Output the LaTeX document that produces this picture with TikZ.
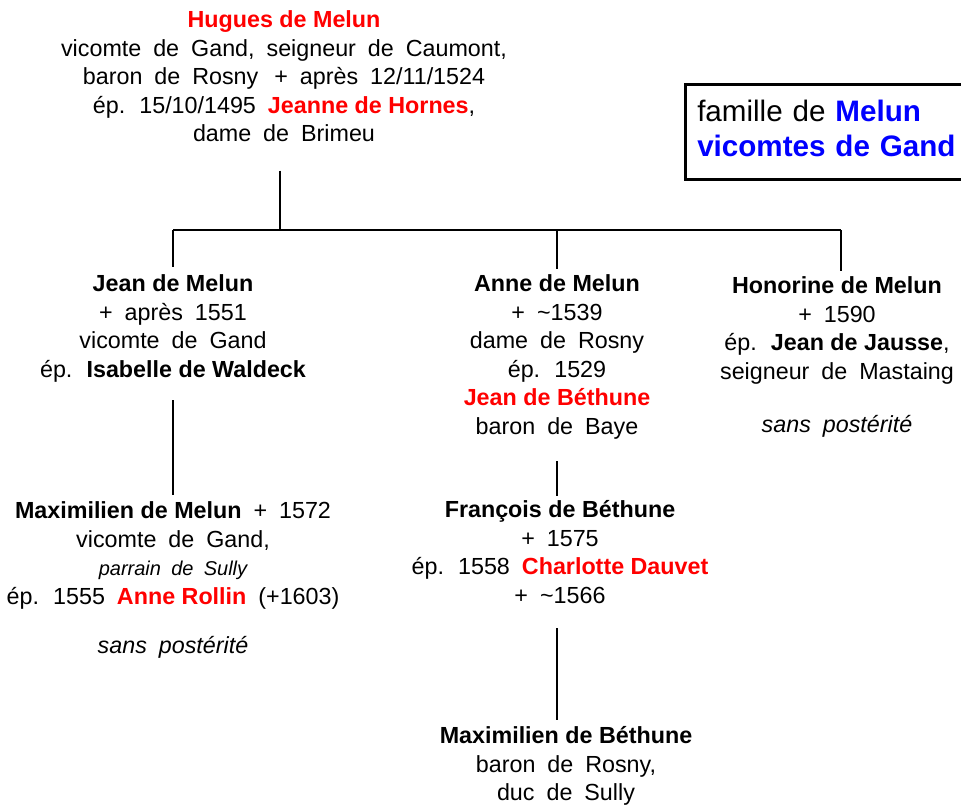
\documentclass[tikz,border=0pt]{standalone}
\usepackage{fontspec}
\setmainfont{Liberation Sans}[WordSpace=1.85, BoldFeatures={WordSpace=1}]
\usetikzlibrary{positioning}
\usepackage{xcolor}
\definecolor{famred}{RGB}{255,0,0}
\definecolor{famblue}{RGB}{0,0,255}
\newcommand{\pers}[1]{\textbf{#1}}
\newcommand{\alliee}[1]{\textcolor{famred}{\textbf{#1}}}

\begin{document}
\begin{tikzpicture}[
        x=1pt, y=-1pt,
        person/.style={align=center, inner sep=0pt, anchor=north,
          font=\fontsize{23.3}{28.5}\selectfont},
        remark/.style={inner sep=0pt,
          font=\fontsize{23.3}{28.5}\selectfont\itshape},
        legend/.style={draw, line width=2.5pt, anchor=north west,
          text width=275pt, minimum height=95pt, align=left,
          inner xsep=12pt, text depth=41pt,
          font=\fontsize{29.6}{35}\selectfont},
        tree/.style={line width=2pt},
      ]
      \useasboundingbox (0,0) rectangle (961,804);

      % Generation 0
      \node[person] (hugues) at (284,10.5) {\textcolor{famred}{\textbf{Hugues de Melun}}\\
        vicomte de Gand, seigneur de Caumont,\\
        baron de Rosny\hspace{4pt} + après 12/11/1524\\
        ép. 15/10/1495 \alliee{Jeanne de Hornes},\\
        dame de Brimeu};

      % Legend
      \node[legend] (legend) at (684,83) {famille de \textcolor{famblue}{\textbf{Melun}}\\
        \textcolor{famblue}{\textbf{vicomtes de Gand}}};

      % Generation 1
      \node[person] (jean) at (173,274.5) {\pers{Jean de Melun}\\
        + après 1551\\
        vicomte de Gand\\
        ép. \pers{Isabelle de Waldeck}};
      \node[person] (anne) at (557,274.5) {\pers{Anne de Melun}\\
        + \textasciitilde1539\\
        dame de Rosny\\
        ép. 1529\\
        \alliee{Jean de Béthune}\\
        baron de Baye};
      \node[person] (honorine) at (837,276.5) {\pers{Honorine de Melun}\\
        + 1590\\
        ép. \pers{Jean de Jausse},\\
        seigneur de Mastaing};
      \node[remark, below=31pt of honorine] (honsans) {sans postérité};

      % Generation 2
      \node[person] (maxmelun) at (173,501.5) {\pers{Maximilien de Melun} + 1572\\
        vicomte de Gand,\\
        {\fontsize{20}{28.5}\selectfont\itshape parrain de Sully}\\
        ép. 1555 \alliee{Anne Rollin} (+1603)};
      \node[remark, below=27pt of maxmelun] (maxsans) {sans postérité};
      \node[person] (francois) at (560,500.5) {\pers{François de Béthune}\\
        + 1575\\
        ép. 1558 \alliee{Charlotte Dauvet}\\
        + \textasciitilde1566};

      % Generation 3
      \node[person] (maxbethune) at (566,726.5) {\pers{Maximilien de Béthune}\\
        baron de Rosny,\\
        duc de Sully};

      % Lines
      \coordinate (fork) at (280,230);
      \coordinate (forkL) at (173,230);
      \coordinate (forkR) at (841,230);
      \draw[tree] ([yshift=-28.5pt]hugues.south -| fork) -- (fork);
      \draw[tree] (forkL) -- (forkR);
      \draw[tree] (forkL) -- ([yshift=8pt]jean.north);
      \draw[tree] (anne.north |- fork) -- ([yshift=6pt]anne.north);
      \draw[tree] (forkR) -- ([yshift=6pt]honorine.north -| forkR);
      \draw[tree] ([yshift=-18pt]jean.south) -- ([yshift=7pt]maxmelun.north);
      \draw[tree] ([yshift=-22pt]anne.south) -- ([yshift=4.5pt]francois.north -| anne);
      \draw[tree] ([yshift=-24.5pt]francois.south -| anne) -- ([yshift=6.5pt]maxbethune.north -| anne);

      \end{tikzpicture}
\end{document}
